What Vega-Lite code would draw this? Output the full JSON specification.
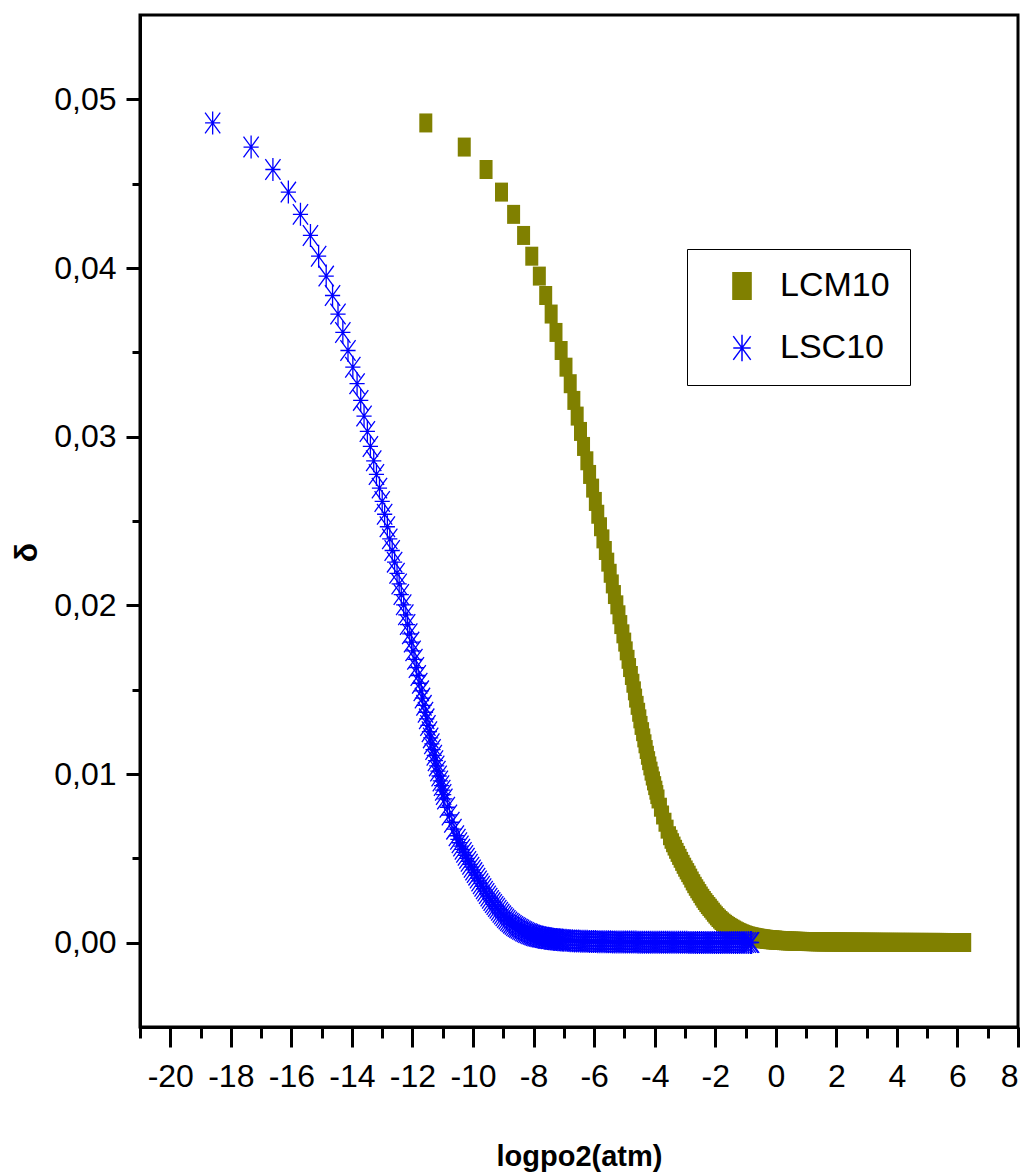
{
"$schema": "https://vega.github.io/schema/vega-lite/v6.json",
"width": 878, "height": 1012,
"autosize": {"type": "none"},
"padding": {"left": 140, "top": 15, "right": 10, "bottom": 149},
"background": "white",
"config": {
 "view": {"stroke": "black", "strokeWidth": 3},
 "font": "Liberation Sans",
 "axis": {"grid": false, "domainColor": "black", "domainWidth": 3, "tickColor": "black", "tickWidth": 3, "labelColor": "black", "titleColor": "black", "labelFont": "Liberation Sans", "titleFont": "Liberation Sans"},
 "legend": {"labelFont": "Liberation Sans"}
},
"datasets": {
 "d": [
 {"series":"LCM10","logpo2":-11.56,"delta":0.04860},{"series":"LCM10","logpo2":-10.29,"delta":0.04717},{"series":"LCM10","logpo2":-9.57,"delta":0.04584},{"series":"LCM10","logpo2":-9.06,"delta":0.04450},{"series":"LCM10","logpo2":-8.66,"delta":0.04318},{"series":"LCM10","logpo2":-8.33,"delta":0.04193},{"series":"LCM10","logpo2":-8.06,"delta":0.04070},{"series":"LCM10","logpo2":-7.81,"delta":0.03952},{"series":"LCM10","logpo2":-7.60,"delta":0.03837},{"series":"LCM10","logpo2":-7.42,"delta":0.03727},{"series":"LCM10","logpo2":-7.26,"delta":0.03618},{"series":"LCM10","logpo2":-7.09,"delta":0.03511},{"series":"LCM10","logpo2":-6.93,"delta":0.03412},{"series":"LCM10","logpo2":-6.79,"delta":0.03314},{"series":"LCM10","logpo2":-6.67,"delta":0.03215},{"series":"LCM10","logpo2":-6.56,"delta":0.03122},{"series":"LCM10","logpo2":-6.45,"delta":0.03031},{"series":"LCM10","logpo2":-6.35,"delta":0.02942},{"series":"LCM10","logpo2":-6.24,"delta":0.02857},{"series":"LCM10","logpo2":-6.15,"delta":0.02776},{"series":"LCM10","logpo2":-6.05,"delta":0.02695},{"series":"LCM10","logpo2":-5.96,"delta":0.02616},{"series":"LCM10","logpo2":-5.88,"delta":0.02540},{"series":"LCM10","logpo2":-5.79,"delta":0.02466},{"series":"LCM10","logpo2":-5.71,"delta":0.02394},{"series":"LCM10","logpo2":-5.63,"delta":0.02325},{"series":"LCM10","logpo2":-5.55,"delta":0.02256},{"series":"LCM10","logpo2":-5.47,"delta":0.02190},{"series":"LCM10","logpo2":-5.40,"delta":0.02127},{"series":"LCM10","logpo2":-5.33,"delta":0.02064},{"series":"LCM10","logpo2":-5.25,"delta":0.02003},{"series":"LCM10","logpo2":-5.18,"delta":0.01944},{"series":"LCM10","logpo2":-5.12,"delta":0.01886},{"series":"LCM10","logpo2":-5.05,"delta":0.01831},
 {"series":"LCM10","logpo2":-4.99,"delta":0.01782},{"series":"LCM10","logpo2":-4.94,"delta":0.01730},{"series":"LCM10","logpo2":-4.88,"delta":0.01680},{"series":"LCM10","logpo2":-4.83,"delta":0.01631},{"series":"LCM10","logpo2":-4.77,"delta":0.01584},{"series":"LCM10","logpo2":-4.72,"delta":0.01538},{"series":"LCM10","logpo2":-4.67,"delta":0.01493},{"series":"LCM10","logpo2":-4.63,"delta":0.01450},{"series":"LCM10","logpo2":-4.58,"delta":0.01407},{"series":"LCM10","logpo2":-4.53,"delta":0.01366},{"series":"LCM10","logpo2":-4.49,"delta":0.01327},{"series":"LCM10","logpo2":-4.45,"delta":0.01288},{"series":"LCM10","logpo2":-4.40,"delta":0.01251},{"series":"LCM10","logpo2":-4.36,"delta":0.01214},{"series":"LCM10","logpo2":-4.32,"delta":0.01179},{"series":"LCM10","logpo2":-4.28,"delta":0.01145},{"series":"LCM10","logpo2":-4.24,"delta":0.01111},{"series":"LCM10","logpo2":-4.20,"delta":0.01079},{"series":"LCM10","logpo2":-4.16,"delta":0.01048},{"series":"LCM10","logpo2":-4.12,"delta":0.01017},{"series":"LCM10","logpo2":-4.08,"delta":0.00988},{"series":"LCM10","logpo2":-4.04,"delta":0.00959},{"series":"LCM10","logpo2":-4.00,"delta":0.00931},{"series":"LCM10","logpo2":-3.96,"delta":0.00904},{"series":"LCM10","logpo2":-3.93,"delta":0.00878},{"series":"LCM10","logpo2":-3.89,"delta":0.00852},
 {"series":"LCM10","logpo2":-3.81,"delta":0.00803},{"series":"LCM10","logpo2":-3.74,"delta":0.00757},{"series":"LCM10","logpo2":-3.66,"delta":0.00714},{"series":"LCM10","logpo2":-3.59,"delta":0.00673},{"series":"LCM10","logpo2":-3.51,"delta":0.00634},
 {"series":"LCM10","logpo2":-3.46,"delta":0.006129},{"series":"LCM10","logpo2":-3.41,"delta":0.005925},{"series":"LCM10","logpo2":-3.36,"delta":0.005728},{"series":"LCM10","logpo2":-3.31,"delta":0.005537},{"series":"LCM10","logpo2":-3.26,"delta":0.005353},{"series":"LCM10","logpo2":-3.21,"delta":0.005175},{"series":"LCM10","logpo2":-3.16,"delta":0.005003},
 {"series":"LCM10","logpo2":-3.11,"delta":0.004820},{"series":"LCM10","logpo2":-3.06,"delta":0.004644},{"series":"LCM10","logpo2":-3.01,"delta":0.004475},{"series":"LCM10","logpo2":-2.96,"delta":0.004312},{"series":"LCM10","logpo2":-2.91,"delta":0.004154},{"series":"LCM10","logpo2":-2.86,"delta":0.004003},
 {"series":"LCM10","logpo2":-2.81,"delta":0.003827},{"series":"LCM10","logpo2":-2.76,"delta":0.003658},{"series":"LCM10","logpo2":-2.71,"delta":0.003497},{"series":"LCM10","logpo2":-2.66,"delta":0.003343},{"series":"LCM10","logpo2":-2.61,"delta":0.003196},{"series":"LCM10","logpo2":-2.56,"delta":0.003056},
 {"series":"LCM10","logpo2":-2.51,"delta":0.002911},{"series":"LCM10","logpo2":-2.46,"delta":0.002767},{"series":"LCM10","logpo2":-2.41,"delta":0.002630},{"series":"LCM10","logpo2":-2.36,"delta":0.002500},{"series":"LCM10","logpo2":-2.31,"delta":0.002376},{"series":"LCM10","logpo2":-2.26,"delta":0.002259},{"series":"LCM10","logpo2":-2.21,"delta":0.002147},{"series":"LCM10","logpo2":-2.16,"delta":0.002041},
 {"series":"LCM10","logpo2":-2.11,"delta":0.001925},{"series":"LCM10","logpo2":-2.06,"delta":0.001806},{"series":"LCM10","logpo2":-2.01,"delta":0.001694},{"series":"LCM10","logpo2":-1.96,"delta":0.001590},{"series":"LCM10","logpo2":-1.91,"delta":0.001491},{"series":"LCM10","logpo2":-1.86,"delta":0.001399},{"series":"LCM10","logpo2":-1.81,"delta":0.001313},{"series":"LCM10","logpo2":-1.76,"delta":0.001232},
 {"series":"LCM10","logpo2":-1.71,"delta":0.001157},{"series":"LCM10","logpo2":-1.66,"delta":0.001088},{"series":"LCM10","logpo2":-1.61,"delta":0.001023},{"series":"LCM10","logpo2":-1.56,"delta":0.000962},{"series":"LCM10","logpo2":-1.51,"delta":0.000905},{"series":"LCM10","logpo2":-1.46,"delta":0.000851},{"series":"LCM10","logpo2":-1.41,"delta":0.000800},
 {"series":"LCM10","logpo2":-1.36,"delta":0.000746},{"series":"LCM10","logpo2":-1.31,"delta":0.000696},{"series":"LCM10","logpo2":-1.26,"delta":0.000650},{"series":"LCM10","logpo2":-1.21,"delta":0.000606},{"series":"LCM10","logpo2":-1.16,"delta":0.000566},{"series":"LCM10","logpo2":-1.11,"delta":0.000528},{"series":"LCM10","logpo2":-1.06,"delta":0.000493},{"series":"LCM10","logpo2":-1.01,"delta":0.000460},{"series":"LCM10","logpo2":-0.96,"delta":0.000429},{"series":"LCM10","logpo2":-0.91,"delta":0.000400},
 {"series":"LCM10","logpo2":-0.86,"delta":0.000378},{"series":"LCM10","logpo2":-0.81,"delta":0.000356},{"series":"LCM10","logpo2":-0.76,"delta":0.000336},{"series":"LCM10","logpo2":-0.71,"delta":0.000318},{"series":"LCM10","logpo2":-0.66,"delta":0.000300},{"series":"LCM10","logpo2":-0.61,"delta":0.000283},{"series":"LCM10","logpo2":-0.56,"delta":0.000267},{"series":"LCM10","logpo2":-0.51,"delta":0.000252},{"series":"LCM10","logpo2":-0.46,"delta":0.000238},{"series":"LCM10","logpo2":-0.41,"delta":0.000225},{"series":"LCM10","logpo2":-0.36,"delta":0.000212},{"series":"LCM10","logpo2":-0.31,"delta":0.000200},
 {"series":"LCM10","logpo2":-0.26,"delta":0.000191},{"series":"LCM10","logpo2":-0.21,"delta":0.000182},{"series":"LCM10","logpo2":-0.16,"delta":0.000174},{"series":"LCM10","logpo2":-0.11,"delta":0.000166},{"series":"LCM10","logpo2":-0.06,"delta":0.000159},{"series":"LCM10","logpo2":-0.01,"delta":0.000152},{"series":"LCM10","logpo2":0.04,"delta":0.000145},{"series":"LCM10","logpo2":0.11,"delta":0.000136},{"series":"LCM10","logpo2":0.18,"delta":0.000127},{"series":"LCM10","logpo2":0.25,"delta":0.000119},{"series":"LCM10","logpo2":0.32,"delta":0.000112},{"series":"LCM10","logpo2":0.39,"delta":0.000105},{"series":"LCM10","logpo2":0.46,"delta":0.0000989},
 {"series":"LCM10","logpo2":0.53,"delta":0.0000942},{"series":"LCM10","logpo2":0.60,"delta":0.0000898},{"series":"LCM10","logpo2":0.67,"delta":0.0000855},{"series":"LCM10","logpo2":0.74,"delta":0.0000815},{"series":"LCM10","logpo2":0.81,"delta":0.0000776},{"series":"LCM10","logpo2":0.88,"delta":0.0000739},{"series":"LCM10","logpo2":0.95,"delta":0.0000704},{"series":"LCM10","logpo2":1.02,"delta":0.0000671},{"series":"LCM10","logpo2":1.09,"delta":0.0000639},{"series":"LCM10","logpo2":1.16,"delta":0.0000609},{"series":"LCM10","logpo2":1.23,"delta":0.0000580},{"series":"LCM10","logpo2":1.30,"delta":0.0000552},{"series":"LCM10","logpo2":1.37,"delta":0.0000526},{"series":"LCM10","logpo2":1.44,"delta":0.0000501},
 {"series":"LCM10","logpo2":1.51,"delta":0.0000486},{"series":"LCM10","logpo2":1.58,"delta":0.0000471},{"series":"LCM10","logpo2":1.65,"delta":0.0000457},{"series":"LCM10","logpo2":1.72,"delta":0.0000443},{"series":"LCM10","logpo2":1.79,"delta":0.0000430},{"series":"LCM10","logpo2":1.86,"delta":0.0000417},{"series":"LCM10","logpo2":1.93,"delta":0.0000404},{"series":"LCM10","logpo2":2.00,"delta":0.0000392},{"series":"LCM10","logpo2":2.07,"delta":0.0000380},{"series":"LCM10","logpo2":2.14,"delta":0.0000369},{"series":"LCM10","logpo2":2.21,"delta":0.0000358},{"series":"LCM10","logpo2":2.28,"delta":0.0000347},{"series":"LCM10","logpo2":2.35,"delta":0.0000336},{"series":"LCM10","logpo2":2.42,"delta":0.0000326},{"series":"LCM10","logpo2":2.49,"delta":0.0000316},{"series":"LCM10","logpo2":2.56,"delta":0.0000307},{"series":"LCM10","logpo2":2.63,"delta":0.0000298},{"series":"LCM10","logpo2":2.70,"delta":0.0000289},{"series":"LCM10","logpo2":2.77,"delta":0.0000280},{"series":"LCM10","logpo2":2.84,"delta":0.0000272},{"series":"LCM10","logpo2":2.91,"delta":0.0000263},{"series":"LCM10","logpo2":2.98,"delta":0.0000255},{"series":"LCM10","logpo2":3.05,"delta":0.0000248},{"series":"LCM10","logpo2":3.12,"delta":0.0000240},{"series":"LCM10","logpo2":3.19,"delta":0.0000233},{"series":"LCM10","logpo2":3.26,"delta":0.0000226},{"series":"LCM10","logpo2":3.33,"delta":0.0000219},{"series":"LCM10","logpo2":3.40,"delta":0.0000213},{"series":"LCM10","logpo2":3.47,"delta":0.0000206},{"series":"LCM10","logpo2":3.54,"delta":0.0000200},
 {"series":"LCM10","logpo2":3.61,"delta":0.0000196},{"series":"LCM10","logpo2":3.68,"delta":0.0000193},{"series":"LCM10","logpo2":3.75,"delta":0.0000190},{"series":"LCM10","logpo2":3.82,"delta":0.0000186},{"series":"LCM10","logpo2":3.89,"delta":0.0000183},{"series":"LCM10","logpo2":3.96,"delta":0.0000180},{"series":"LCM10","logpo2":4.03,"delta":0.0000176},{"series":"LCM10","logpo2":4.10,"delta":0.0000173},{"series":"LCM10","logpo2":4.17,"delta":0.0000170},{"series":"LCM10","logpo2":4.24,"delta":0.0000167},{"series":"LCM10","logpo2":4.31,"delta":0.0000164},{"series":"LCM10","logpo2":4.38,"delta":0.0000161},{"series":"LCM10","logpo2":4.45,"delta":0.0000158},{"series":"LCM10","logpo2":4.52,"delta":0.0000156},{"series":"LCM10","logpo2":4.59,"delta":0.0000153},{"series":"LCM10","logpo2":4.66,"delta":0.0000150},{"series":"LCM10","logpo2":4.73,"delta":0.0000148},{"series":"LCM10","logpo2":4.80,"delta":0.0000145},{"series":"LCM10","logpo2":4.87,"delta":0.0000142},{"series":"LCM10","logpo2":4.94,"delta":0.0000140},{"series":"LCM10","logpo2":5.01,"delta":0.0000137},{"series":"LCM10","logpo2":5.08,"delta":0.0000135},{"series":"LCM10","logpo2":5.15,"delta":0.0000133},{"series":"LCM10","logpo2":5.22,"delta":0.0000130},{"series":"LCM10","logpo2":5.29,"delta":0.0000128},{"series":"LCM10","logpo2":5.36,"delta":0.0000126},{"series":"LCM10","logpo2":5.43,"delta":0.0000123},{"series":"LCM10","logpo2":5.50,"delta":0.0000121},{"series":"LCM10","logpo2":5.57,"delta":0.0000119},{"series":"LCM10","logpo2":5.64,"delta":0.0000117},{"series":"LCM10","logpo2":5.71,"delta":0.0000115},{"series":"LCM10","logpo2":5.78,"delta":0.0000113},{"series":"LCM10","logpo2":5.85,"delta":0.0000111},{"series":"LCM10","logpo2":5.92,"delta":0.0000109},{"series":"LCM10","logpo2":5.99,"delta":0.0000107},{"series":"LCM10","logpo2":6.06,"delta":0.0000105},{"series":"LCM10","logpo2":6.13,"delta":0.0000103},{"series":"LCM10","logpo2":6.20,"delta":0.0000101},{"series":"LCM10","logpo2":6.24,"delta":0.0000100},
 {"series":"LSC10","logpo2":-18.60,"delta":0.04860},{"series":"LSC10","logpo2":-17.33,"delta":0.04717},{"series":"LSC10","logpo2":-16.61,"delta":0.04584},{"series":"LSC10","logpo2":-16.10,"delta":0.04450},{"series":"LSC10","logpo2":-15.70,"delta":0.04318},{"series":"LSC10","logpo2":-15.37,"delta":0.04193},{"series":"LSC10","logpo2":-15.10,"delta":0.04070},{"series":"LSC10","logpo2":-14.85,"delta":0.03952},{"series":"LSC10","logpo2":-14.64,"delta":0.03837},{"series":"LSC10","logpo2":-14.46,"delta":0.03727},{"series":"LSC10","logpo2":-14.30,"delta":0.03618},{"series":"LSC10","logpo2":-14.13,"delta":0.03511},{"series":"LSC10","logpo2":-13.97,"delta":0.03412},{"series":"LSC10","logpo2":-13.83,"delta":0.03314},{"series":"LSC10","logpo2":-13.71,"delta":0.03215},{"series":"LSC10","logpo2":-13.60,"delta":0.03122},{"series":"LSC10","logpo2":-13.49,"delta":0.03031},{"series":"LSC10","logpo2":-13.39,"delta":0.02942},{"series":"LSC10","logpo2":-13.28,"delta":0.02857},{"series":"LSC10","logpo2":-13.19,"delta":0.02776},{"series":"LSC10","logpo2":-13.09,"delta":0.02695},{"series":"LSC10","logpo2":-13.00,"delta":0.02616},{"series":"LSC10","logpo2":-12.92,"delta":0.02540},{"series":"LSC10","logpo2":-12.83,"delta":0.02466},{"series":"LSC10","logpo2":-12.75,"delta":0.02394},{"series":"LSC10","logpo2":-12.67,"delta":0.02325},{"series":"LSC10","logpo2":-12.59,"delta":0.02256},{"series":"LSC10","logpo2":-12.51,"delta":0.02190},{"series":"LSC10","logpo2":-12.44,"delta":0.02127},{"series":"LSC10","logpo2":-12.37,"delta":0.02064},{"series":"LSC10","logpo2":-12.29,"delta":0.02003},{"series":"LSC10","logpo2":-12.22,"delta":0.01944},{"series":"LSC10","logpo2":-12.16,"delta":0.01886},{"series":"LSC10","logpo2":-12.09,"delta":0.01831},
 {"series":"LSC10","logpo2":-12.03,"delta":0.01782},{"series":"LSC10","logpo2":-11.98,"delta":0.01730},{"series":"LSC10","logpo2":-11.92,"delta":0.01680},{"series":"LSC10","logpo2":-11.87,"delta":0.01631},{"series":"LSC10","logpo2":-11.81,"delta":0.01584},{"series":"LSC10","logpo2":-11.76,"delta":0.01538},{"series":"LSC10","logpo2":-11.71,"delta":0.01493},{"series":"LSC10","logpo2":-11.67,"delta":0.01450},{"series":"LSC10","logpo2":-11.62,"delta":0.01407},{"series":"LSC10","logpo2":-11.57,"delta":0.01366},{"series":"LSC10","logpo2":-11.53,"delta":0.01327},{"series":"LSC10","logpo2":-11.49,"delta":0.01288},{"series":"LSC10","logpo2":-11.44,"delta":0.01251},{"series":"LSC10","logpo2":-11.40,"delta":0.01214},{"series":"LSC10","logpo2":-11.36,"delta":0.01179},{"series":"LSC10","logpo2":-11.32,"delta":0.01145},{"series":"LSC10","logpo2":-11.28,"delta":0.01111},{"series":"LSC10","logpo2":-11.24,"delta":0.01079},{"series":"LSC10","logpo2":-11.20,"delta":0.01048},{"series":"LSC10","logpo2":-11.16,"delta":0.01017},{"series":"LSC10","logpo2":-11.12,"delta":0.00988},{"series":"LSC10","logpo2":-11.08,"delta":0.00959},{"series":"LSC10","logpo2":-11.04,"delta":0.00931},{"series":"LSC10","logpo2":-11.00,"delta":0.00904},{"series":"LSC10","logpo2":-10.97,"delta":0.00878},{"series":"LSC10","logpo2":-10.93,"delta":0.00852},
 {"series":"LSC10","logpo2":-10.85,"delta":0.00803},{"series":"LSC10","logpo2":-10.78,"delta":0.00757},{"series":"LSC10","logpo2":-10.70,"delta":0.00714},{"series":"LSC10","logpo2":-10.63,"delta":0.00673},{"series":"LSC10","logpo2":-10.55,"delta":0.00634},
 {"series":"LSC10","logpo2":-10.50,"delta":0.006129},{"series":"LSC10","logpo2":-10.45,"delta":0.005925},{"series":"LSC10","logpo2":-10.40,"delta":0.005728},{"series":"LSC10","logpo2":-10.35,"delta":0.005537},{"series":"LSC10","logpo2":-10.30,"delta":0.005353},{"series":"LSC10","logpo2":-10.25,"delta":0.005175},{"series":"LSC10","logpo2":-10.20,"delta":0.005003},
 {"series":"LSC10","logpo2":-10.15,"delta":0.004820},{"series":"LSC10","logpo2":-10.10,"delta":0.004644},{"series":"LSC10","logpo2":-10.05,"delta":0.004475},{"series":"LSC10","logpo2":-10.00,"delta":0.004312},{"series":"LSC10","logpo2":-9.95,"delta":0.004154},{"series":"LSC10","logpo2":-9.90,"delta":0.004003},
 {"series":"LSC10","logpo2":-9.85,"delta":0.003827},{"series":"LSC10","logpo2":-9.80,"delta":0.003658},{"series":"LSC10","logpo2":-9.75,"delta":0.003497},{"series":"LSC10","logpo2":-9.70,"delta":0.003343},{"series":"LSC10","logpo2":-9.65,"delta":0.003196},{"series":"LSC10","logpo2":-9.60,"delta":0.003056},
 {"series":"LSC10","logpo2":-9.55,"delta":0.002911},{"series":"LSC10","logpo2":-9.50,"delta":0.002767},{"series":"LSC10","logpo2":-9.45,"delta":0.002630},{"series":"LSC10","logpo2":-9.40,"delta":0.002500},{"series":"LSC10","logpo2":-9.35,"delta":0.002376},{"series":"LSC10","logpo2":-9.30,"delta":0.002259},{"series":"LSC10","logpo2":-9.25,"delta":0.002147},{"series":"LSC10","logpo2":-9.20,"delta":0.002041},
 {"series":"LSC10","logpo2":-9.15,"delta":0.001925},{"series":"LSC10","logpo2":-9.10,"delta":0.001806},{"series":"LSC10","logpo2":-9.05,"delta":0.001694},{"series":"LSC10","logpo2":-9.00,"delta":0.001590},{"series":"LSC10","logpo2":-8.95,"delta":0.001491},{"series":"LSC10","logpo2":-8.90,"delta":0.001399},{"series":"LSC10","logpo2":-8.85,"delta":0.001313},{"series":"LSC10","logpo2":-8.80,"delta":0.001232},
 {"series":"LSC10","logpo2":-8.75,"delta":0.001157},{"series":"LSC10","logpo2":-8.70,"delta":0.001088},{"series":"LSC10","logpo2":-8.65,"delta":0.001023},{"series":"LSC10","logpo2":-8.60,"delta":0.000962},{"series":"LSC10","logpo2":-8.55,"delta":0.000905},{"series":"LSC10","logpo2":-8.50,"delta":0.000851},{"series":"LSC10","logpo2":-8.45,"delta":0.000800},
 {"series":"LSC10","logpo2":-8.40,"delta":0.000746},{"series":"LSC10","logpo2":-8.35,"delta":0.000696},{"series":"LSC10","logpo2":-8.30,"delta":0.000650},{"series":"LSC10","logpo2":-8.25,"delta":0.000606},{"series":"LSC10","logpo2":-8.20,"delta":0.000566},{"series":"LSC10","logpo2":-8.15,"delta":0.000528},{"series":"LSC10","logpo2":-8.10,"delta":0.000493},{"series":"LSC10","logpo2":-8.05,"delta":0.000460},{"series":"LSC10","logpo2":-8.00,"delta":0.000429},{"series":"LSC10","logpo2":-7.95,"delta":0.000400},
 {"series":"LSC10","logpo2":-7.90,"delta":0.000378},{"series":"LSC10","logpo2":-7.85,"delta":0.000356},{"series":"LSC10","logpo2":-7.80,"delta":0.000336},{"series":"LSC10","logpo2":-7.75,"delta":0.000318},{"series":"LSC10","logpo2":-7.70,"delta":0.000300},{"series":"LSC10","logpo2":-7.65,"delta":0.000283},{"series":"LSC10","logpo2":-7.60,"delta":0.000267},{"series":"LSC10","logpo2":-7.55,"delta":0.000252},{"series":"LSC10","logpo2":-7.50,"delta":0.000238},{"series":"LSC10","logpo2":-7.45,"delta":0.000225},{"series":"LSC10","logpo2":-7.40,"delta":0.000212},{"series":"LSC10","logpo2":-7.35,"delta":0.000200},
 {"series":"LSC10","logpo2":-7.30,"delta":0.000191},{"series":"LSC10","logpo2":-7.25,"delta":0.000182},{"series":"LSC10","logpo2":-7.20,"delta":0.000174},{"series":"LSC10","logpo2":-7.15,"delta":0.000166},{"series":"LSC10","logpo2":-7.10,"delta":0.000159},{"series":"LSC10","logpo2":-7.05,"delta":0.000152},{"series":"LSC10","logpo2":-7.00,"delta":0.000145},{"series":"LSC10","logpo2":-6.93,"delta":0.000136},{"series":"LSC10","logpo2":-6.86,"delta":0.000127},{"series":"LSC10","logpo2":-6.79,"delta":0.000119},{"series":"LSC10","logpo2":-6.72,"delta":0.000112},{"series":"LSC10","logpo2":-6.65,"delta":0.000105},{"series":"LSC10","logpo2":-6.58,"delta":0.0000989},
 {"series":"LSC10","logpo2":-6.51,"delta":0.0000942},{"series":"LSC10","logpo2":-6.44,"delta":0.0000898},{"series":"LSC10","logpo2":-6.37,"delta":0.0000855},{"series":"LSC10","logpo2":-6.30,"delta":0.0000815},{"series":"LSC10","logpo2":-6.23,"delta":0.0000776},{"series":"LSC10","logpo2":-6.16,"delta":0.0000739},{"series":"LSC10","logpo2":-6.09,"delta":0.0000704},{"series":"LSC10","logpo2":-6.02,"delta":0.0000671},{"series":"LSC10","logpo2":-5.95,"delta":0.0000639},{"series":"LSC10","logpo2":-5.88,"delta":0.0000609},{"series":"LSC10","logpo2":-5.81,"delta":0.0000580},{"series":"LSC10","logpo2":-5.74,"delta":0.0000552},{"series":"LSC10","logpo2":-5.67,"delta":0.0000526},{"series":"LSC10","logpo2":-5.60,"delta":0.0000501},
 {"series":"LSC10","logpo2":-5.53,"delta":0.0000486},{"series":"LSC10","logpo2":-5.46,"delta":0.0000471},{"series":"LSC10","logpo2":-5.39,"delta":0.0000457},{"series":"LSC10","logpo2":-5.32,"delta":0.0000443},{"series":"LSC10","logpo2":-5.25,"delta":0.0000430},{"series":"LSC10","logpo2":-5.18,"delta":0.0000417},{"series":"LSC10","logpo2":-5.11,"delta":0.0000404},{"series":"LSC10","logpo2":-5.04,"delta":0.0000392},{"series":"LSC10","logpo2":-4.97,"delta":0.0000380},{"series":"LSC10","logpo2":-4.90,"delta":0.0000369},{"series":"LSC10","logpo2":-4.83,"delta":0.0000358},{"series":"LSC10","logpo2":-4.76,"delta":0.0000347},{"series":"LSC10","logpo2":-4.69,"delta":0.0000336},{"series":"LSC10","logpo2":-4.62,"delta":0.0000326},{"series":"LSC10","logpo2":-4.55,"delta":0.0000316},{"series":"LSC10","logpo2":-4.48,"delta":0.0000307},{"series":"LSC10","logpo2":-4.41,"delta":0.0000298},{"series":"LSC10","logpo2":-4.34,"delta":0.0000289},{"series":"LSC10","logpo2":-4.27,"delta":0.0000280},{"series":"LSC10","logpo2":-4.20,"delta":0.0000272},{"series":"LSC10","logpo2":-4.13,"delta":0.0000263},{"series":"LSC10","logpo2":-4.06,"delta":0.0000255},{"series":"LSC10","logpo2":-3.99,"delta":0.0000248},{"series":"LSC10","logpo2":-3.92,"delta":0.0000240},{"series":"LSC10","logpo2":-3.85,"delta":0.0000233},{"series":"LSC10","logpo2":-3.78,"delta":0.0000226},{"series":"LSC10","logpo2":-3.71,"delta":0.0000219},{"series":"LSC10","logpo2":-3.64,"delta":0.0000213},{"series":"LSC10","logpo2":-3.57,"delta":0.0000206},{"series":"LSC10","logpo2":-3.50,"delta":0.0000200},
 {"series":"LSC10","logpo2":-3.43,"delta":0.0000196},{"series":"LSC10","logpo2":-3.36,"delta":0.0000193},{"series":"LSC10","logpo2":-3.29,"delta":0.0000190},{"series":"LSC10","logpo2":-3.22,"delta":0.0000186},{"series":"LSC10","logpo2":-3.15,"delta":0.0000183},{"series":"LSC10","logpo2":-3.08,"delta":0.0000180},{"series":"LSC10","logpo2":-3.01,"delta":0.0000176},{"series":"LSC10","logpo2":-2.94,"delta":0.0000173},{"series":"LSC10","logpo2":-2.87,"delta":0.0000170},{"series":"LSC10","logpo2":-2.80,"delta":0.0000167},{"series":"LSC10","logpo2":-2.73,"delta":0.0000164},{"series":"LSC10","logpo2":-2.66,"delta":0.0000161},{"series":"LSC10","logpo2":-2.59,"delta":0.0000158},{"series":"LSC10","logpo2":-2.52,"delta":0.0000156},{"series":"LSC10","logpo2":-2.45,"delta":0.0000153},{"series":"LSC10","logpo2":-2.38,"delta":0.0000150},{"series":"LSC10","logpo2":-2.31,"delta":0.0000148},{"series":"LSC10","logpo2":-2.24,"delta":0.0000145},{"series":"LSC10","logpo2":-2.17,"delta":0.0000142},{"series":"LSC10","logpo2":-2.10,"delta":0.0000140},{"series":"LSC10","logpo2":-2.03,"delta":0.0000137},{"series":"LSC10","logpo2":-1.96,"delta":0.0000135},{"series":"LSC10","logpo2":-1.89,"delta":0.0000133},{"series":"LSC10","logpo2":-1.82,"delta":0.0000130},{"series":"LSC10","logpo2":-1.75,"delta":0.0000128},{"series":"LSC10","logpo2":-1.68,"delta":0.0000126},{"series":"LSC10","logpo2":-1.61,"delta":0.0000123},{"series":"LSC10","logpo2":-1.54,"delta":0.0000121},{"series":"LSC10","logpo2":-1.47,"delta":0.0000119},{"series":"LSC10","logpo2":-1.40,"delta":0.0000117},{"series":"LSC10","logpo2":-1.33,"delta":0.0000115},{"series":"LSC10","logpo2":-1.26,"delta":0.0000113},{"series":"LSC10","logpo2":-1.19,"delta":0.0000111},{"series":"LSC10","logpo2":-1.12,"delta":0.0000109},{"series":"LSC10","logpo2":-1.05,"delta":0.0000107},{"series":"LSC10","logpo2":-0.98,"delta":0.0000105},{"series":"LSC10","logpo2":-0.91,"delta":0.0000103},{"series":"LSC10","logpo2":-0.84,"delta":0.0000101},{"series":"LSC10","logpo2":-0.80,"delta":0.0000100}
 ]
},
"data": {"name": "d"},
"encoding": {
 "color": {"field": "series", "type": "nominal", "scale": {"domain": ["LCM10", "LSC10"], "range": ["#808000", "#0000ff"]},
  "legend": {"title": null, "orient": "none", "legendX": 547, "legendY": 234, "strokeColor": "black", "padding": 20, "labelFontSize": 34, "labelColor": "black", "labelLimit": 0, "symbolSize": 700, "rowPadding": 28, "symbolOffset": 18, "labelOffset": 21, "symbolStrokeWidth": 1.5,
   "encode": {"legend": {"update": {"strokeWidth": {"value": 2}}}, "symbols": {"update": {"fill": {"signal": "datum.value === 'LCM10' ? '#808000' : 'transparent'"}, "stroke": {"signal": "datum.value === 'LCM10' ? 'transparent' : '#0000ff'"}, "strokeWidth": {"value": 1.5}}}}}},
 "shape": {"field": "series", "type": "nominal", "scale": {"domain": ["LCM10", "LSC10"], "range": ["M-0.684,-1L0.684,-1L0.684,1L-0.684,1Z", "M0,-1L0,1M-0.66,-0.9L0.66,0.9M-0.66,0.9L0.66,-0.9M-0.66,0L0.66,0"]},
  "legend": {"title": null, "orient": "none", "legendX": 547, "legendY": 234, "strokeColor": "black", "padding": 20, "labelFontSize": 34, "labelColor": "black", "labelLimit": 0, "symbolSize": 700, "rowPadding": 28, "symbolOffset": 18, "labelOffset": 21, "symbolStrokeWidth": 1.5,
   "encode": {"legend": {"update": {"strokeWidth": {"value": 2}}}, "symbols": {"update": {"fill": {"signal": "datum.value === 'LCM10' ? '#808000' : 'transparent'"}, "stroke": {"signal": "datum.value === 'LCM10' ? 'transparent' : '#0000ff'"}, "strokeWidth": {"value": 1.5}}}}}}
},
"layer": [
 {
  "transform": [{"filter": "datum.series === 'LCM10'"}],
  "mark": {"type": "point", "filled": true, "size": 361, "opacity": 1, "strokeWidth": 0},
  "encoding": {
   "x": {"field": "logpo2", "type": "quantitative", "scale": {"domain": [-21, 8], "nice": false, "zero": false},
    "axis": {"values": [-20,-18,-16,-14,-12,-10,-8,-6,-4,-2,0,2,4,6,8], "labelExpr": "datum.value + ''", "tickSize": 20, "labelPadding": 14, "labelFontSize": 32, "title": "logpo2(atm)", "titleFontSize": 29, "titleFontWeight": "bold", "titlePadding": 50, "orient": "bottom"}},
   "y": {"field": "delta", "type": "quantitative", "scale": {"domain": [-0.005, 0.055], "nice": false, "zero": false},
    "axis": {"values": [0, 0.01, 0.02, 0.03, 0.04, 0.05], "labelExpr": "replace(format(datum.value, '.2f'), '.', ',')", "tickSize": 14, "labelPadding": 10, "labelFontSize": 32, "title": "δ", "titleFontSize": 32, "titleFontWeight": "bold", "titlePadding": 10, "titleY": 537, "orient": "left"}}
  }
 },
 {
  "transform": [{"filter": "datum.series === 'LSC10'"}],
  "mark": {"type": "point", "filled": false, "size": 529, "opacity": 1, "strokeWidth": 1.3},
  "encoding": {
   "x": {"field": "logpo2", "type": "quantitative", "scale": {"domain": [-21, 8], "nice": false, "zero": false},
    "axis": {"values": [-21,-19,-17,-15,-13,-11,-9,-7,-5,-3,-1,1,3,5,7], "tickSize": 11, "labels": false, "title": null, "orient": "bottom"}},
   "y": {"field": "delta", "type": "quantitative", "scale": {"domain": [-0.005, 0.055], "nice": false, "zero": false},
    "axis": {"values": [0.005, 0.015, 0.025, 0.035, 0.045], "tickSize": 8, "labels": false, "title": null, "orient": "left"}}
  }
 }
],
"resolve": {"axis": {"x": "independent", "y": "independent"}}
}
